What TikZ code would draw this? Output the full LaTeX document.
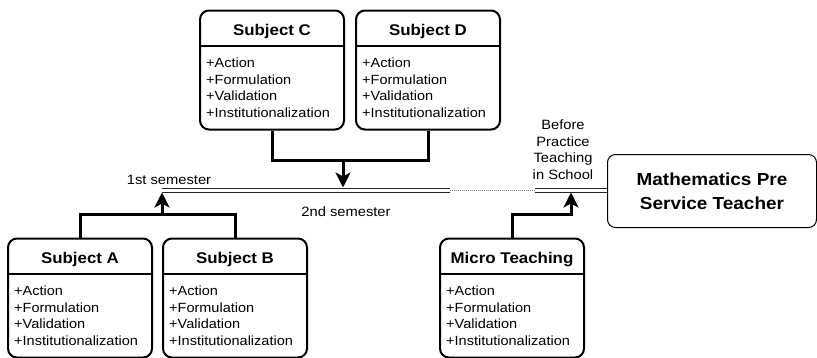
\documentclass[tikz,border=0pt]{standalone}
\usepackage{fontspec}
\setmainfont{Liberation Sans}[FakeStretch=1.09]
\usetikzlibrary{arrows.meta}
\tikzset{
  boxfr/.style={draw=black, line width=2pt, rounded corners=9pt, minimum width=144pt, minimum height=119pt, inner sep=0pt, anchor=north west, fill=white},
  hdrline/.style={line width=2pt},
  titletext/.style={font=\fontsize{15.5}{18}\selectfont\bfseries, anchor=base, inner sep=0pt},
  bodytext/.style={font=\fontsize{13.3}{16}\selectfont, anchor=base west, inner sep=0pt},
  lbl/.style={font=\fontsize{13.5}{16.5}\selectfont, inner sep=0pt},
  conn/.style={line width=3pt},
  arr/.style={-{Stealth[length=15pt,width=15pt,inset=4pt]}},
  dline/.style={double distance=3pt, line width=1pt, draw=black!85},
  dotline/.style={draw=gray, line width=0.8pt, dash pattern=on 1pt off 1pt},
  mainbox/.style={draw=black, line width=1pt, rounded corners=8pt, minimum width=209pt, minimum height=73pt, anchor=north west, align=center, inner sep=0pt, font=\fontsize{17.4}{24}\selectfont\bfseries}
}
\newcommand\umlbox[4]{%
  \node[boxfr] (#1) at (#2,#3) {};
  \draw[hdrline] ([yshift=-36pt]#1.north west) -- ([yshift=-36pt]#1.north east);
  \node[titletext] (#1t) at ([yshift=-25.5pt]#1.north) {#4};
  \node[bodytext] (#1a) at ([xshift=7pt,yshift=-57.8pt]#1.north west) {+Action};
  \node[bodytext] (#1b) at ([xshift=7pt,yshift=-74.5pt]#1.north west) {+Formulation};
  \node[bodytext] (#1c) at ([xshift=7pt,yshift=-91.2pt]#1.north west) {+Validation};
  \node[bodytext] (#1d) at ([xshift=7pt,yshift=-107.9pt]#1.north west) {+Institutionalization};
}
\begin{document}
\begin{tikzpicture}[x=1pt,y=-1pt]
\useasboundingbox (0,0) rectangle (817,357);

% boxes
\umlbox{sC}{199}{9.5}{Subject C}
\umlbox{sD}{355}{9.5}{Subject D}
\umlbox{sA}{7}{237.5}{Subject A}
\umlbox{sB}{162}{237.5}{Subject B}
\umlbox{sM}{439}{237.5}{Micro Teaching}

\node[mainbox] (mpst) at (607,154) {Mathematics Pre\\Service Teacher};

% timeline
\coordinate (dlS) at (162,190);
\coordinate (dlE) at (450,190);
\coordinate (dlS2) at (535,190);
\draw[dline] (dlS) -- (dlE);
\draw[dotline] (dlE) -- (dlS2);
\draw[dline] (dlS2) -- (mpst.west |- dlS2);

% labels
\node[lbl, anchor=base] (l1) at (169,184) {1st semester};
\node[lbl, anchor=base] (l2) at (346,216) {2nd semester};
\node[lbl, align=center, anchor=south] (l3) at (563,179.5) {Before\\Practice\\Teaching\\in School};

% connectors
\coordinate (jCD) at (343,160);
\coordinate (tCD) at (343,187.5);
\draw[conn] (sC.south) |- (jCD) -| (sD.south);
\draw[conn,arr] (jCD) -- (tCD);

\coordinate (jAB) at (162,214);
\coordinate (tAB) at (162,192.5);
\draw[conn] (sA.north) |- (jAB) -| (sB.north);
\draw[conn,arr] (jAB) -- (tAB);

\coordinate (jM) at (571,214);
\coordinate (tM) at (571,192.5);
\draw[conn,arr] (sM.north) |- (jM) -- (tM);
\end{tikzpicture}
\end{document}
